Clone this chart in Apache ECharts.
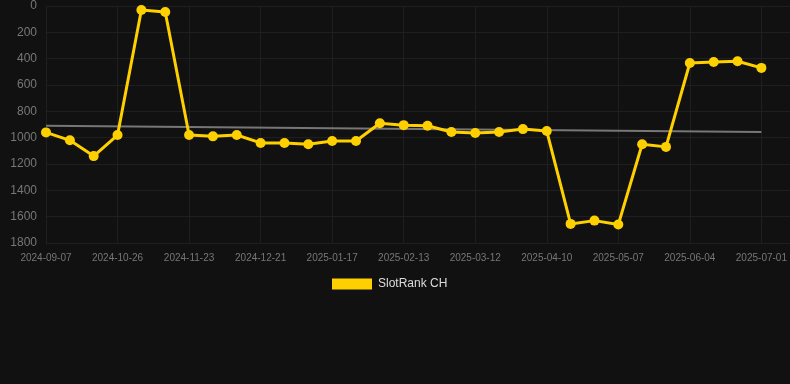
<!DOCTYPE html>
<html><head><meta charset="utf-8">
<script src="https://cdn.jsdelivr.net/npm/echarts@6/dist/echarts.min.js"></script>
<style>html,body{margin:0;padding:0;background:#111111;}#c{width:790px;height:384px;}</style>
</head><body><div id="c"></div>
<script>
var categories = ['2024-09-07','2024-09-23','2024-10-10','2024-10-26','2024-11-04','2024-11-14','2024-11-23','2024-12-02','2024-12-12','2024-12-21','2024-12-30','2025-01-08','2025-01-17','2025-01-26','2025-02-04','2025-02-13','2025-02-22','2025-03-03','2025-03-12','2025-03-22','2025-03-31','2025-04-10','2025-04-19','2025-04-28','2025-05-07','2025-05-16','2025-05-26','2025-06-04','2025-06-13','2025-06-22','2025-07-01'];
var rankValues = [960,1020,1140,980,30,45,980,990,980,1040,1040,1050,1025,1025,890,905,910,957,965,957,935,950,1655,1630,1660,1050,1070,433,425,420,470];
var trendStart = 910, trendEnd = 957;
var yTicks = [0,200,400,600,800,1000,1200,1400,1600,1800];

var rankData = rankValues.map(function(v,i){ return [i, v]; });
var trendData = [[0, trendStart], [categories.length-1, trendEnd]];

var chart = echarts.init(document.getElementById('c'), null, {renderer:'canvas'});
chart.setOption({
  backgroundColor:'#111111',
  animation:false,
  grid:{left:46,right:0,top:6,bottom:141,containLabel:false},
  legend:{top:273,left:327,itemWidth:40,itemHeight:11,itemGap:10,data:['SlotRank CH'],
    textStyle:{color:'#dddddd',fontSize:12,padding:[0,0,0,1],fontFamily:'Arial, Liberation Sans, sans-serif'},icon:'rect'},
  xAxis:{type:'value',min:0,max:31.2,interval:3,
    axisLine:{show:false},axisTick:{show:false},
    axisLabel:{color:'#777777',fontSize:10,margin:10,showMaxLabel:false,fontFamily:'Arial, Liberation Sans, sans-serif',
      formatter:function(v){ return categories[Math.round(v)] || ''; }},
    splitLine:{show:true,showMaxLine:false,lineStyle:{color:'#1f1f1f',width:1}}},
  yAxis:{type:'value',inverse:true,min:yTicks[0],max:yTicks[yTicks.length-1],interval:200,
    axisLine:{show:false},axisTick:{show:false},
    axisLabel:{color:'#777777',fontSize:12,margin:9,fontFamily:'Arial, Liberation Sans, sans-serif',
      formatter:function(v){ return String(v); }},
    splitLine:{lineStyle:{color:'#1f1f1f',width:1}}},
  series:[
    {name:'Trend',type:'line',data:trendData,showSymbol:false,symbol:'none',
      lineStyle:{color:'#777777',width:2},itemStyle:{color:'#777777'},z:1},
    {name:'SlotRank CH',type:'line',data:rankData,symbol:'circle',symbolSize:10,
      lineStyle:{color:'#FFD000',width:3},itemStyle:{color:'#FFD000'},z:2}
  ]
});
</script></body></html>
